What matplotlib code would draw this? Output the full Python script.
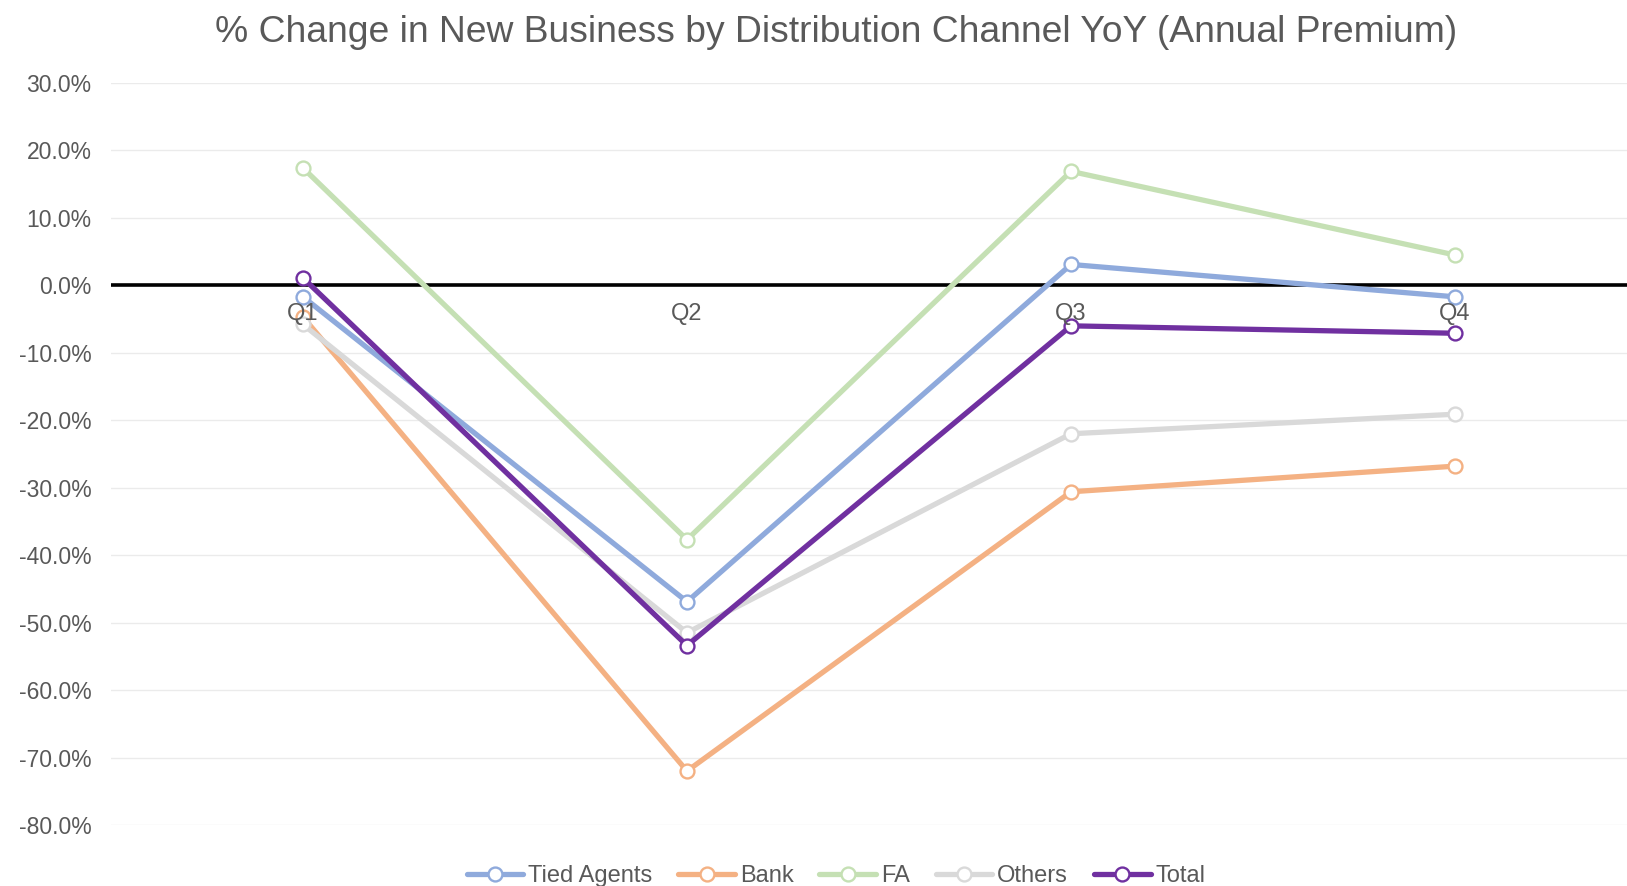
import matplotlib
matplotlib.use("Agg")
import matplotlib.pyplot as plt
from matplotlib.ticker import FuncFormatter, MultipleLocator

plt.rcParams['font.family'] = ['Liberation Sans', 'DejaVu Sans']

quarters = ["Q1", "Q2", "Q3", "Q4"]
series_names = ["Tied Agents", "Bank", "FA", "Others", "Total"]
tied_agents = [-1.7, -46.9, 3.1, -1.7]
bank = [-4.7, -72.0, -30.6, -26.8]
fa = [17.4, -37.7, 16.9, 4.5]
others = [-5.8, -51.5, -22.0, -19.1]
total = [1.1, -53.4, -6.0, -7.1]
colors = ["#8FAADC", "#F4B183", "#C5E0B4", "#D9D9D9", "#7030A0"]
title = "% Change in New Business by Distribution Channel YoY (Annual Premium)"

W, H = 1627, 886
fig = plt.figure(figsize=(W / 100, H / 100), dpi=100)
left_px, right_px, top_px, bot_px = 111, 1627, 83, 825
ax = fig.add_axes([left_px / W, 1 - bot_px / H, (right_px - left_px) / W, (bot_px - top_px) / H])

x = list(range(len(quarters)))
all_series = [tied_agents, bank, fa, others, total]
lines = []
for name, vals, c in zip(series_names, all_series, colors):
    ln, = ax.plot(x, vals, color=c, lw=3.8, marker='o', markersize=10,
                  markerfacecolor='white', markeredgecolor=c, markeredgewidth=1.7,
                  label=name, zorder=3, solid_capstyle='round')
    lines.append(ln)

ax.set_ylim(-80, 30)
x_left = -0.5
x_right = x_left + (right_px - left_px) / 384.0
ax.set_xlim(x_left, x_right)
ax.yaxis.set_major_locator(MultipleLocator(10))
ax.yaxis.set_major_formatter(FuncFormatter(lambda v, p: f"{v:.1f}%"))
ax.grid(axis='y', color='#EBEBEB', lw=1.0, zorder=0)
ax.axhline(0, color='black', lw=2.6, zorder=2)
ax.set_xticks([])
for s in ax.spines.values():
    s.set_visible(False)
ax.tick_params(axis='y', length=0, labelsize=16.5, labelcolor='#595959', pad=14)

for xi, q in zip(x, quarters):
    ax.text(xi, -4.2, q, ha='center', va='center', fontsize=17, color='#595959', zorder=4)

t = fig.text(836 / W, 1 - 32 / H, title, ha='center', va='center', fontsize=24, color='#595959')
fig.canvas.draw()
r = fig.canvas.get_renderer()
bb = t.get_window_extent(r)
t.set_fontsize(24 * 1243 / bb.width)

leg = fig.legend(handles=lines, labels=series_names, loc='center', bbox_to_anchor=(836 / W, 1 - 876 / H),
                 ncol=5, frameon=False, fontsize=17, handlelength=2.4, handletextpad=0.2,
                 columnspacing=1.1, labelcolor='#595959')

fig.savefig("out.png", dpi=100)
